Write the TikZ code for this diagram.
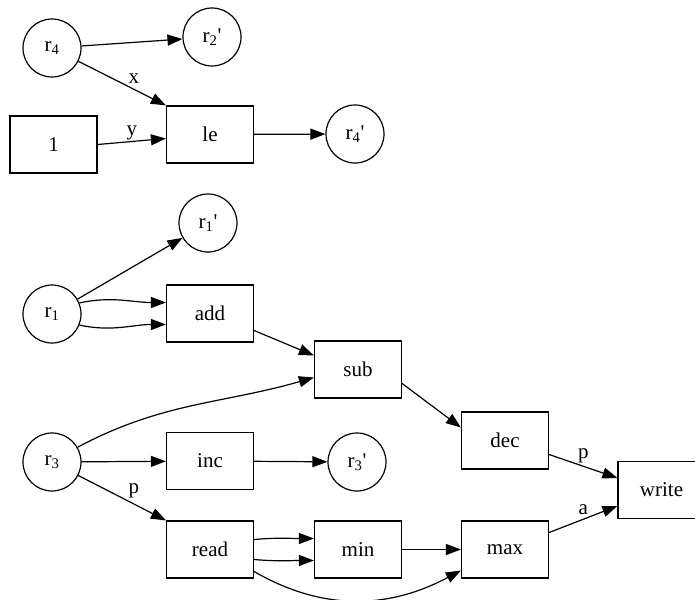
\documentclass[tikz,border=0pt]{standalone}
\usepackage{fontspec}
\setmainfont{Liberation Serif}
\usetikzlibrary{arrows.meta}
\begin{document}
\begin{tikzpicture}[x=1pt,y=1pt,
  font=\fontsize{21}{24}\selectfont,
  circ/.style={circle, draw, line width=1.2pt, minimum size=58pt, inner sep=0pt},
  boxn/.style={rectangle, draw, line width=1.2pt, minimum width=87pt, minimum height=57pt, inner sep=0pt},
  arr/.style={line width=1.2pt, -{Triangle[length=15pt,width=11pt]}},
  lbl/.style={inner sep=1.5pt}]
\useasboundingbox (0,0) rectangle (695,-599);
% nodes
\node[circ] (r4) at (52,-48) {r\textsubscript{4}};
\node[circ] (r2p) at (212,-37) {r\textsubscript{2}\textquotesingle};
\node[boxn] (le) at (210,-134.5) {le};
\node[boxn] (one) at (53.5,-144.5) {1};
\node[circ] (r4p) at (355,-134) {r\textsubscript{4}\textquotesingle};
\node[circ] (r1p) at (208,-223) {r\textsubscript{1}\textquotesingle};
\node[circ] (r1) at (52,-314) {r\textsubscript{1}};
\node[boxn] (add) at (210,-313.5) {add};
\node[boxn] (sub) at (358,-369.5) {sub};
\node[circ] (r3) at (52,-462) {r\textsubscript{3}};
\node[boxn] (inc) at (210,-461) {inc};
\node[circ] (r3p) at (357,-462) {r\textsubscript{3}\textquotesingle};
\node[boxn] (dec) at (505,-440.5) {dec};
\node[boxn] (write) at (661.5,-490) {write};
\node[boxn] (read) at (210,-549.5) {read};
\node[boxn] (min) at (358,-549.5) {min};
\node[boxn] (max) at (505,-549.5) {max};
% edges
\draw[arr] (r4) -- (r2p);
\draw[arr] (r4) -- node[lbl, pos=0.55, above right] {x} (le.north west);
\draw[arr] (one.east) -- node[lbl, pos=0.5, above=-1pt] {y} ([yshift=-4pt]le.west);
\draw[arr] (le) -- (r4p);
\draw[arr] (r1) -- (r1p);
\draw[arr] (r1.22) to[out=12,in=180] ([yshift=11pt]add.west);
\draw[arr] (r1.-22) to[out=-12,in=180] ([yshift=-11pt]add.west);
\draw[arr] ([yshift=-17pt]add.east) -- ([yshift=14pt]sub.west);
\draw[arr] (r3.30) to[out=28,in=196] ([yshift=-8pt]sub.west);
\draw[arr] (r3) -- (inc);
\draw[arr] (inc) -- (r3p);
\draw[arr] (r3) -- node[lbl, pos=0.55, above right] {p} (read.north west);
\draw[arr] ([yshift=10pt]read.east) to[out=5,in=180] ([yshift=11pt]min.west);
\draw[arr] ([yshift=-10pt]read.east) to[out=-5,in=180] ([yshift=-11pt]min.west);
\draw[arr] ([yshift=-22pt]read.east) to[out=-30,in=208] ([yshift=-21pt]max.west);
\draw[arr] (min) -- (max);
\draw[arr] ([yshift=-14pt]sub.east) -- ([yshift=13pt]dec.west);
\draw[arr] ([yshift=-14pt]dec.east) -- node[lbl, pos=0.5, above=1pt] {p} ([yshift=12pt]write.west);
\draw[arr] ([yshift=17pt]max.east) -- node[lbl, pos=0.5, above=2pt] {a} ([yshift=-16pt]write.west);
\end{tikzpicture}
\end{document}
